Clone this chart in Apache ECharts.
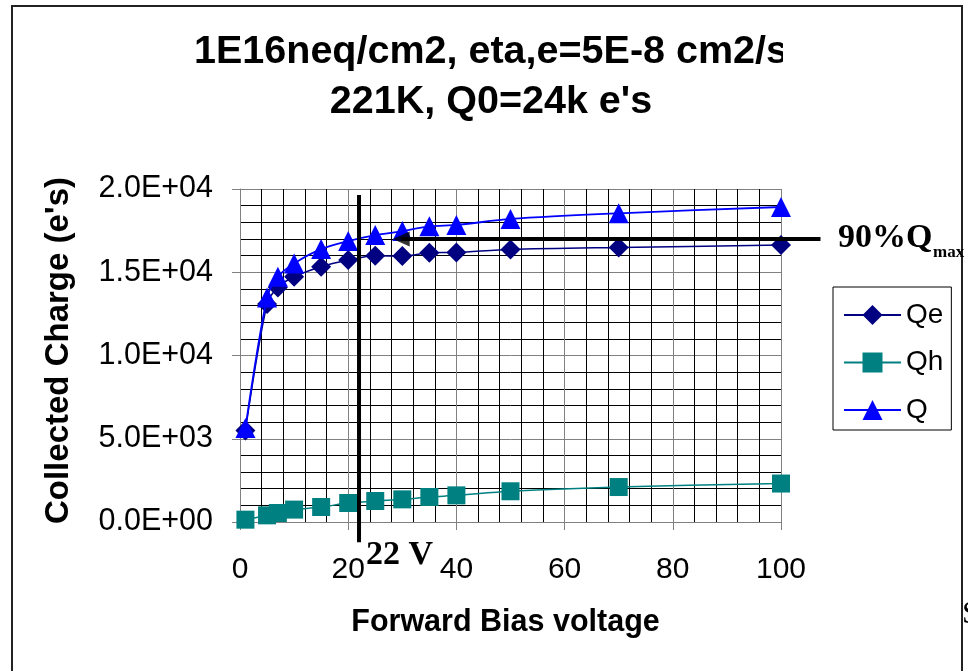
<!DOCTYPE html>
<html>
<head>
<meta charset="utf-8">
<script src="https://cdn.jsdelivr.net/npm/echarts@6/dist/echarts.min.js"></script>
<style>
html,body{margin:0;padding:0;background:#fff;}
#chart{width:968px;height:671px;}
</style>
</head>
<body>
<div id="chart"></div>
<script>
// ---- data ----
const voltages = [1, 5, 7, 10, 15, 20, 25, 30, 35, 40, 50, 70, 100];
const qe = [5500, 13100, 14090, 14730, 15330, 15730, 15990, 15970, 16170, 16190, 16370, 16490, 16630];
const qh = [140, 400, 540, 745, 900, 1140, 1260, 1360, 1500, 1600, 1845, 2100, 2310];
const q  = [5640, 13480, 14730, 15530, 16390, 16870, 17230, 17470, 17760, 17840, 18200, 18540, 18920];
const yTickLabels = ['0.0E+00', '5.0E+03', '1.0E+04', '1.5E+04', '2.0E+04'];
const xTickLabels = ['0', '20', '40', '60', '80', '100'];
// annotation: depletion voltage marker and 90% Qmax arrow
const vMarkX = 22;
const vMarkY = [19640, -1220];
const q90 = 17000;
const arrowShaftX = [107.3, 29.8];
const arrowHeadX = 29.8;

const SANS = "'Liberation Sans', Arial, sans-serif";
const SERIF = "'Liberation Serif', 'Times New Roman', serif";

const chart = echarts.init(document.getElementById('chart'), null, {renderer: 'canvas'});
const pair = (xs, ys) => xs.map((x, i) => [x, ys[i]]);

chart.setOption({
  animation: false,
  backgroundColor: '#fff',
  title: {
    text: "1E16neq/cm2, eta,e=5E-8 cm2/s\n221K, Q0=24k e's",
    left: 491,
    top: 27,
    padding: 0,
    textAlign: 'center',
    textStyle: {fontFamily: SANS, fontSize: 39.5, fontWeight: 'bold', color: '#000', lineHeight: 50}
  },
  grid: {left: 240, right: 187, top: 189, bottom: 149, containLabel: false},
  xAxis: {
    type: 'value', min: 0, max: 100, interval: 20,
    name: 'Forward Bias voltage', nameLocation: 'middle', nameGap: 85,
    nameTextStyle: {fontFamily: SANS, fontSize: 30.5, fontWeight: 'bold', color: '#000', padding: [0, 10, 0, 0]},
    axisLine: {show: true, lineStyle: {color: '#808080', width: 1}},
    axisTick: {show: true, inside: false, length: 8, lineStyle: {color: '#808080'}},
    axisLabel: {margin: 33, fontFamily: SANS, fontSize: 30, color: '#000',
      formatter: (v) => xTickLabels[Math.round(v / 20)]},
    splitLine: {show: true, lineStyle: {color: '#808080', width: 1}},
    minorTick: {show: false, splitNumber: 5},
    minorSplitLine: {show: true, lineStyle: {color: '#000', width: 1}}
  },
  yAxis: {
    type: 'value', min: 0, max: 20000, interval: 5000,
    name: "Collected Charge (e's)", nameLocation: 'middle', nameGap: 165, nameRotate: 90,
    nameTextStyle: {fontFamily: SANS, fontSize: 33, fontWeight: 'bold', color: '#000', padding: [0, 0, 0, 10]},
    axisLine: {show: true, lineStyle: {color: '#808080', width: 1}},
    axisTick: {show: true, inside: false, length: 8, lineStyle: {color: '#808080'}},
    axisLabel: {margin: 27, fontFamily: SANS, fontSize: 30.5, color: '#000',
      formatter: (v) => yTickLabels[Math.round(v / 5000)]},
    splitLine: {show: true, lineStyle: {color: '#808080', width: 1}},
    minorTick: {show: false, splitNumber: 5},
    minorSplitLine: {show: true, lineStyle: {color: '#000', width: 1}}
  },
  legend: {
    data: ['Qe', 'Qh', 'Q'],
    orient: 'vertical',
    left: 833, top: 287,
    padding: [14, 8, 6, 10],
    itemGap: 19.5,
    itemWidth: 57, itemHeight: 25,
    borderColor: '#000', borderWidth: 1, borderRadius: 0,
    backgroundColor: '#fff',
    textStyle: {fontFamily: SANS, fontSize: 28, color: '#000'},
    selectedMode: false
  },
  series: [
    {
      name: 'Qe', type: 'line', data: pair(voltages, qe), smooth: 0.3,
      symbol: 'diamond', symbolSize: 20,
      lineStyle: {color: '#000080', width: 1.5}, itemStyle: {color: '#000080'}, z: 3
    },
    {
      name: 'Qh', type: 'line', data: pair(voltages, qh), smooth: 0.3,
      symbol: 'rect', symbolSize: 18,
      lineStyle: {color: '#008080', width: 1.5}, itemStyle: {color: '#008080'}, z: 3
    },
    {
      name: 'Q', type: 'line', data: pair(voltages, q), smooth: 0.3,
      symbol: 'triangle', symbolSize: 20,
      lineStyle: {color: '#0000FF', width: 1.8}, itemStyle: {color: '#0000FF'}, z: 4
    },
    {
      name: 'vmark', type: 'line', clip: false, silent: true,
      data: [[vMarkX, vMarkY[0]], [vMarkX, vMarkY[1]]],
      symbol: 'none', lineStyle: {color: '#000', width: 4}, z: 5
    },
    {
      name: 'arrowHead', type: 'scatter', clip: false, silent: true,
      data: [[arrowHeadX, q90]],
      symbol: 'triangle', symbolSize: [15, 17], symbolRotate: 90,
      itemStyle: {color: '#000'}, z: 6
    }
  ],
  graphic: [
    {type: 'rect', z: 100, silent: true, shape: {x: 12, y: 6, width: 950, height: 700},
      style: {fill: 'none', stroke: '#222', lineWidth: 2}},
    {type: 'rect', z: 100, silent: true, shape: {x: 783, y: 30, width: 40, height: 45},
      style: {fill: '#fff'}},
    {type: 'text', z: 100, silent: true, x: 366, y: 555.5,
      style: {text: '22 V', font: 'bold 34px ' + SERIF, fill: '#000', verticalAlign: 'middle', align: 'left'}},
    {type: 'text', z: 100, silent: true, x: 838, y: 238.5,
      style: {text: '90%Q', font: 'bold 34px ' + SERIF, fill: '#000', verticalAlign: 'middle', align: 'left'}},
    {type: 'text', z: 100, silent: true, x: 933, y: 252.3,
      style: {text: 'max', font: 'bold 17px ' + SERIF, fill: '#000', verticalAlign: 'middle', align: 'left'}},
    {type: 'text', z: 100, silent: true, x: 962, y: 615,
      style: {text: 'S', font: '32px ' + SERIF, fill: '#000', verticalAlign: 'middle', align: 'left'}}
  ]
});

// 90% Qmax arrow shaft, placed through the chart's own axis scale
const p1 = chart.convertToPixel({xAxisIndex: 0, yAxisIndex: 0}, [arrowShaftX[0], q90]);
const p2 = chart.convertToPixel({xAxisIndex: 0, yAxisIndex: 0}, [arrowShaftX[1], q90]);
chart.setOption({
  graphic: [{
    id: 'arrowShaft', type: 'line', z: 5, silent: true,
    shape: {x1: p1[0], y1: p1[1], x2: p2[0], y2: p2[1]},
    style: {stroke: '#000', lineWidth: 4}
  }]
});
</script>
</body>
</html>
